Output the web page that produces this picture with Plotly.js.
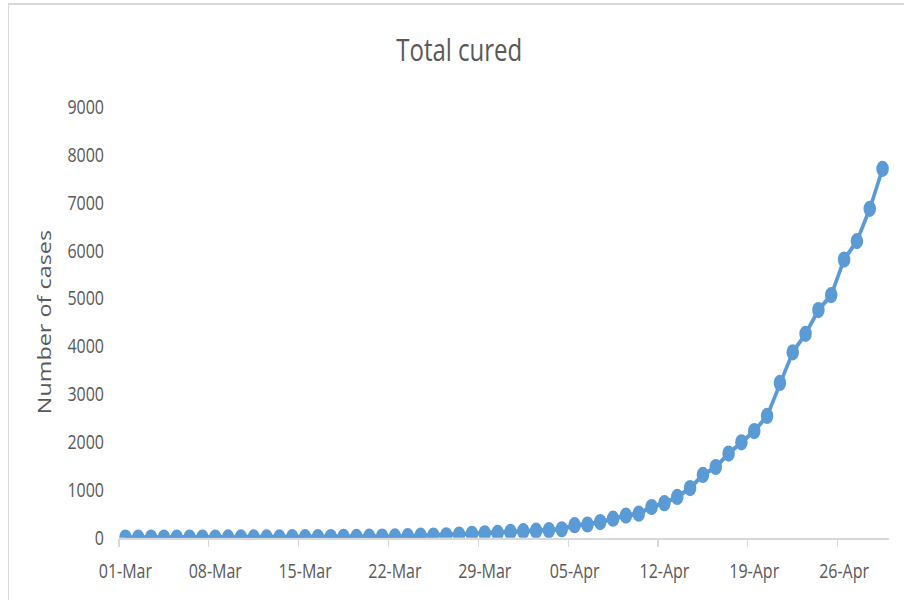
<!DOCTYPE html>
<html>
<head>
<meta charset="utf-8">
<script src="https://cdn.plot.ly/plotly-3.0.1.min.js"></script>
<style>
  html, body { margin: 0; padding: 0; background: #ffffff; overflow: hidden; }
  #frame { position: absolute; left: 8px; top: 3px; width: 900px; height: 600px;
           border-left: 1.5px solid #d9d9d9; border-top: 2px solid #d9d9d9; }
  #chart { position: absolute; left: 0; top: 0; width: 904px; height: 462px;
           transform: scaleY(1.2987); transform-origin: 0 0; }
</style>
</head>
<body>
<div id="frame"></div>
<div id="chart"></div>
<script>
// Dates (2020) from 01-Mar to 29-Apr
const dayCount = 60;
const dates = [];
for (let i = 0; i < dayCount; i++) {
  const d = new Date(Date.UTC(2020, 2, 1 + i));
  dates.push(d.toISOString().slice(0, 10));
}

// Total cured
const cured = [
  3, 3, 3, 3, 3, 3, 3, 3, 4, 4,
  4, 4, 4, 10, 10, 10, 13, 14, 15, 20,
  23, 25, 30, 40, 43, 50, 65, 80, 90, 100,
  120, 135, 145, 155, 175, 260, 275, 325, 395, 460,
  500, 640, 720, 850, 1035, 1310, 1475, 1755, 1990, 2225,
  2540, 3230, 3870, 4255, 4750, 5065, 5805, 6190, 6865, 7700
];

// Tick labels (every 7 days)
const tickDates = ['2020-03-01', '2020-03-08', '2020-03-15', '2020-03-22', '2020-03-29', '2020-04-05', '2020-04-12', '2020-04-19', '2020-04-26'];
const tickLabels = ['01-Mar', '08-Mar', '15-Mar', '22-Mar', '29-Mar', '05-Apr', '12-Apr', '19-Apr', '26-Apr'];

// tick marks sit on the category boundaries (half a day before each labelled date)
const tickBoundaries = tickDates.map(s => {
  const t = new Date(s + 'T00:00:00Z').getTime() - 12 * 3600 * 1000;
  return new Date(t).toISOString().replace('T', ' ').slice(0, 19);
});

const xRange = ['2020-02-29 12:00:00', '2020-04-29 12:00:00'];
const txtColor = '#595959';
const fontFam = '"Open Sans", "Noto Sans", sans-serif';

const trace = {
  type: 'scatter',
  mode: 'lines+markers',
  x: dates,
  y: cured,
  line: { color: '#5B9BD5', width: 3.5 },
  marker: { color: '#5B9BD5', size: 12.5 },
  hoverinfo: 'x+y'
};

const layout = {
  width: 904,
  height: 462,
  margin: { l: 119.1, r: 15.4, t: 82.4, b: 47.74, pad: 0 },
  paper_bgcolor: 'rgba(0,0,0,0)',
  plot_bgcolor: 'rgba(0,0,0,0)',
  showlegend: false,
  title: {
    text: 'Total cured',
    font: { family: fontFam, size: 24, color: txtColor },
    x: 0.508, xanchor: 'center', xref: 'container',
    y: 1 - 38.5 / 462, yanchor: 'middle', yref: 'container'
  },
  xaxis: {
    type: 'date',
    range: xRange,
    tickmode: 'array',
    tickvals: tickDates,
    ticktext: tickLabels,
    ticks: '',
    showline: true,
    linecolor: '#d9d9d9',
    linewidth: 1.5,
    showgrid: false,
    zeroline: false,
    ticklabelstandoff: 10,
    tickfont: { family: fontFam, size: 16, color: txtColor },
    fixedrange: true
  },
  xaxis2: {
    type: 'date',
    overlaying: 'x',
    side: 'bottom',
    anchor: 'y',
    range: xRange,
    tickmode: 'array',
    tickvals: tickBoundaries,
    showticklabels: false,
    ticks: 'outside',
    ticklen: 6,
    tickwidth: 1.2,
    tickcolor: '#d9d9d9',
    showline: false,
    showgrid: false,
    zeroline: false,
    fixedrange: true
  },
  yaxis: {
    range: [0, 9000],
    tickmode: 'linear',
    tick0: 0,
    dtick: 1000,
    ticks: '',
    showline: false,
    showgrid: false,
    zeroline: false,
    ticklabelstandoff: 14,
    tickfont: { family: fontFam, size: 16, color: txtColor },
    title: {
      text: 'Number of cases',
      font: { family: fontFam, size: 18, color: txtColor },
      standoff: 11
    },
    fixedrange: true
  }
};

// an invisible companion trace binds the tick-mark axis
const tickTrace = {
  type: 'scatter', mode: 'markers', x: [], y: [], xaxis: 'x2', yaxis: 'y',
  hoverinfo: 'skip', showlegend: false
};

Plotly.newPlot('chart', [trace, tickTrace], layout, { displayModeBar: false, staticPlot: true });
</script>
</body>
</html>
